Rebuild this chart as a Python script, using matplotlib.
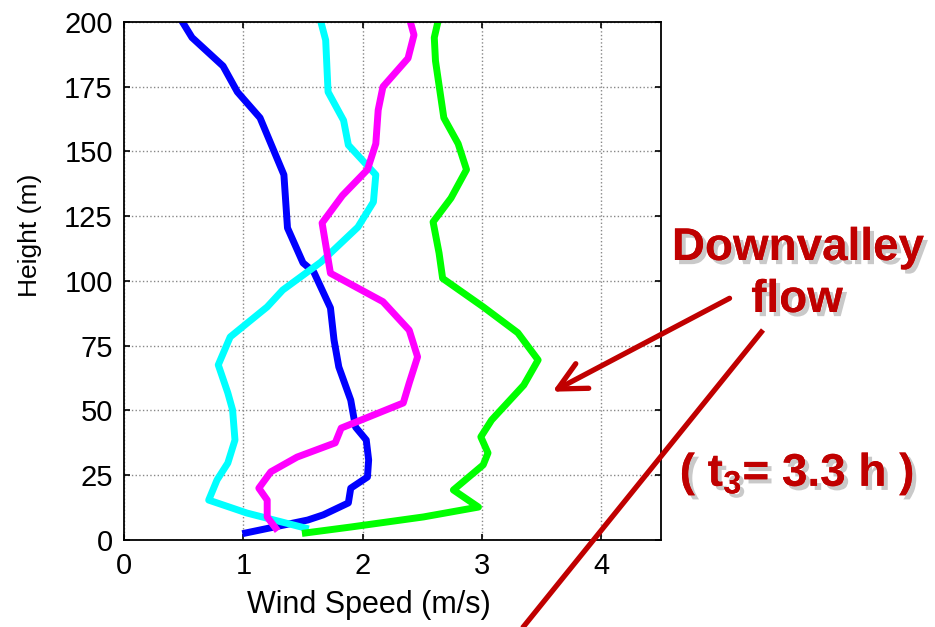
import matplotlib.pyplot as plt
import matplotlib.patheffects as pe
from matplotlib.lines import Line2D
from matplotlib.patches import FancyArrowPatch

plt.rcParams['font.family'] = ['Liberation Sans', 'DejaVu Sans']
plt.rcParams['mathtext.fontset'] = 'custom'
plt.rcParams['mathtext.rm'] = 'Liberation Sans'
plt.rcParams['mathtext.bf'] = 'Liberation Sans:bold'

# profiles: wind speed (m/s) vs height (m)
blue_u = [0.49, 0.57, 0.83, 0.95, 1.14, 1.34, 1.37, 1.50, 1.59, 1.73, 1.76, 1.80,
          1.90, 1.94, 2.03, 2.05, 2.04, 1.90, 1.88, 1.67, 1.54, 1.02]
blue_z = [200, 194, 183, 173, 163, 141, 120.5, 107, 103.5, 89.6, 77.2, 66.8,
          54, 43.6, 38.6, 30.9, 24.3, 20, 14.3, 9.7, 7.7, 2.7]

cyan_u = [1.65, 1.69, 1.71, 1.84, 1.88, 2.11, 2.09, 1.96, 1.65, 1.33, 1.20, 0.89,
          0.79, 0.87, 0.91, 0.93, 0.87, 0.78, 0.71, 1.03, 1.52]
cyan_z = [200, 193, 173, 162, 152.5, 141, 130.5, 120.8, 107.3, 96.5, 90, 78.4,
          67.6, 56.8, 50.2, 38.6, 29.7, 23.2, 15.4, 10.4, 4.6]

mag_u = [2.40, 2.43, 2.38, 2.17, 2.13, 2.11, 2.04, 1.83, 1.66, 1.73, 2.17, 2.39,
         2.46, 2.39, 2.34, 1.82, 1.77, 1.45, 1.23, 1.13, 1.20, 1.20, 1.27]
mag_z = [200, 195, 186, 175, 166, 153, 143, 133, 122.4, 103, 92, 81,
         70.7, 60.6, 52.9, 43.2, 37.5, 32, 26.3, 20, 15.4, 8.9, 4.6]

green_u = [2.63, 2.60, 2.61, 2.68, 2.80, 2.87, 2.74, 2.59, 2.64, 2.67, 3.01, 3.30,
           3.47, 3.35, 3.08, 2.99, 3.05, 3.01, 2.76, 2.97, 2.51, 1.90, 1.52]
green_z = [200, 194, 185, 163, 153, 143, 132, 122.8, 110.8, 101, 90, 80,
           69.5, 59.8, 46.3, 39.8, 33.6, 29, 19.3, 12.7, 8.9, 5, 2.7]

xticks = [0, 1, 2, 3, 4]
yticks = [0, 25, 50, 75, 100, 125, 150, 175, 200]

fig = plt.figure(figsize=(9.35, 6.27), dpi=100)
ax = fig.add_axes([0.1326, 0.1388, 0.5744, 0.8261])

lw = 5
ax.plot(blue_u, blue_z, color='#0000FF', lw=lw)
ax.plot(cyan_u, cyan_z, color='#00FFFF', lw=lw)
ax.plot(mag_u, mag_z, color='#FF00FF', lw=lw)
ax.plot(green_u, green_z, color='#00FF00', lw=lw)

ax.set_xlim(0, 4.5)
ax.set_ylim(0, 200)
ax.set_xticks(xticks)
ax.set_yticks(yticks)
ax.grid(True, color='#888888', linestyle=':', linewidth=1.0)
ax.tick_params(direction='in', top=True, right=True, labelsize=21, length=4, width=1.2)
ax.tick_params(axis='x', pad=9)
ax.tick_params(axis='y', pad=8)
for s in ax.spines.values():
    s.set_linewidth(1.3)
ax.set_xlabel('Wind Speed (m/s)', fontsize=22, va='center')
ax.set_ylabel('Height (m)', fontsize=19, va='center')
ax.xaxis.set_label_coords(0.456, -0.125)
ax.yaxis.set_label_coords(-0.175, 0.589)

red = '#C00000'
shadow = [pe.withSimplePatchShadow(offset=(3, -3), shadow_rgbFace='#888888', alpha=0.45),
          pe.Normal()]

fig.text(798, 627 - 248, 'Downvalley', transform=None, fontsize=33, fontweight='bold',
         color=red, ha='center', va='center', path_effects=shadow)
fig.text(797, 627 - 300, 'flow', transform=None, fontsize=33, fontweight='bold',
         color=red, ha='center', va='center', path_effects=shadow)
fig.text(797, 627 - 474, r'( t$_\mathbf{3}$= 3.3 h )', transform=None, fontsize=33,
         fontweight='bold', color=red, ha='center', va='center', path_effects=shadow)

# arrow to the green profile
fig.patches.append(FancyArrowPatch(
    (732, 627 - 297), (550, 627 - 393), transform=None,
    arrowstyle='->,head_length=20,head_width=10', color=red, lw=3.8,
    mutation_scale=1))

# long diagonal line
fig.lines.append(Line2D([763, 520], [627 - 330, 627 - 631], transform=None,
                        color=red, lw=3.8, solid_capstyle='butt'))

fig.savefig('out.png', dpi=100)
